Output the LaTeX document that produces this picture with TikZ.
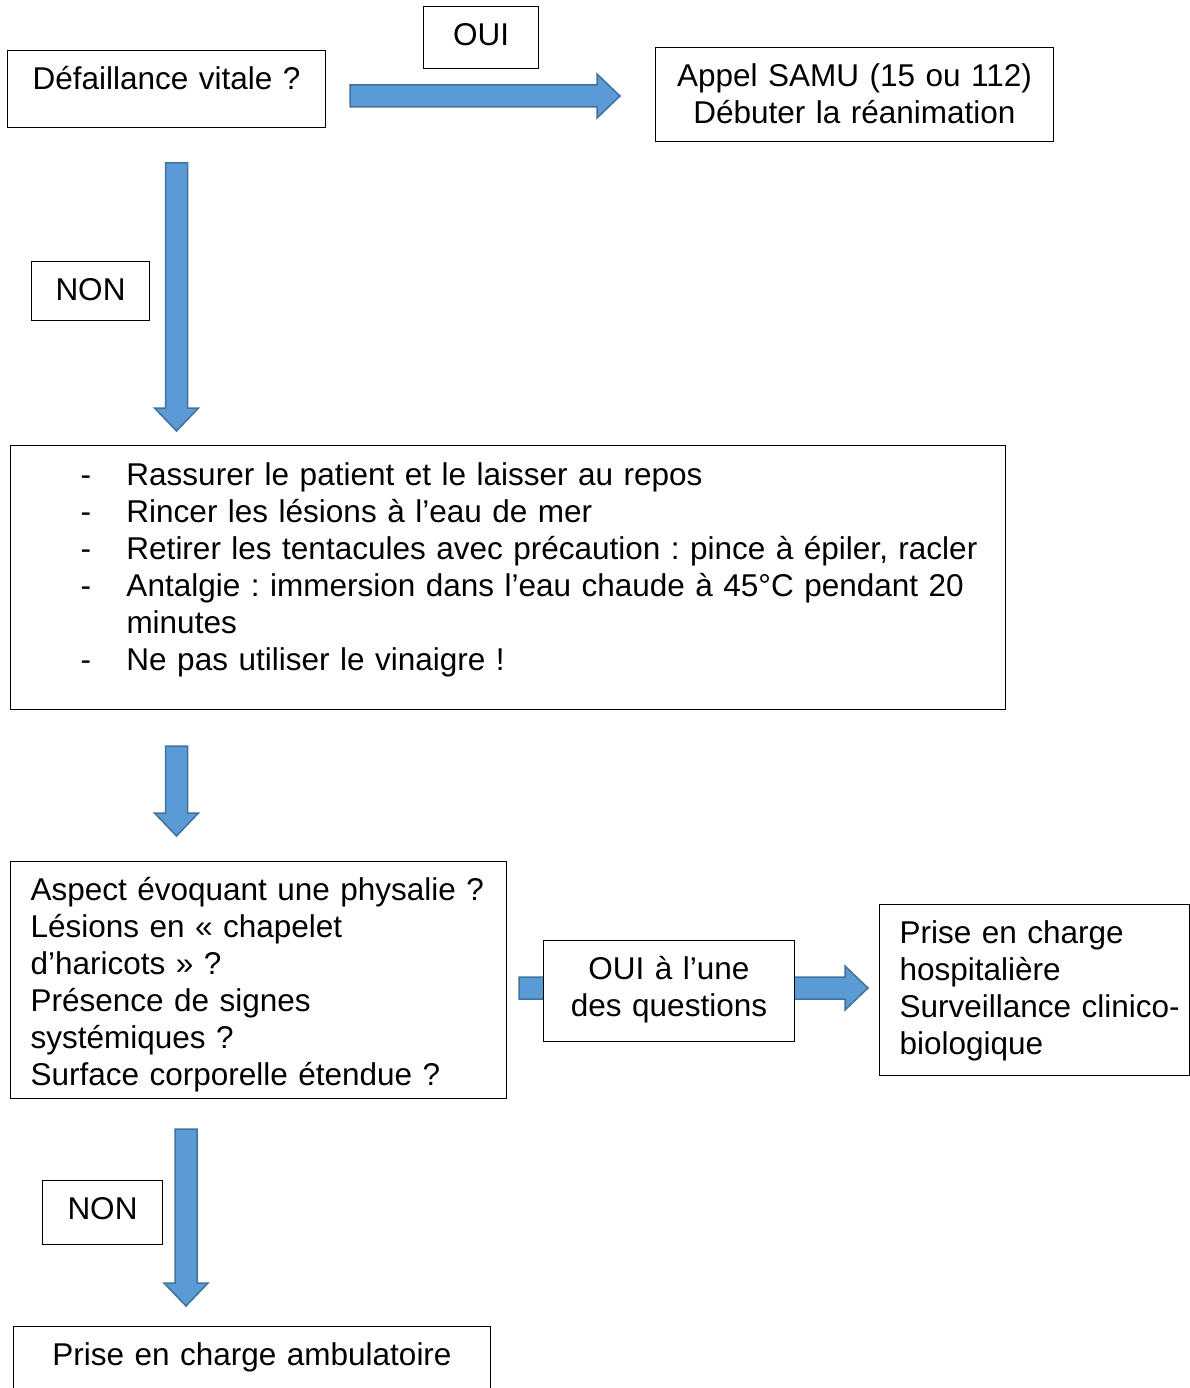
\documentclass[tikz,border=0pt]{standalone}
\usepackage{fontspec}
\setmainfont{Liberation Sans}
\usepackage{tikz}
\usetikzlibrary{calc}
\frenchspacing
\definecolor{bleufond}{HTML}{5B9BD5}
\definecolor{bleutrait}{HTML}{41719C}
\newcommand\tiret{\leavevmode\llap{\makebox[46pt][l]{-}}}

\begin{document}
\begin{tikzpicture}[x = 1pt, y = -1pt,
    every node/.style = { font = \fontsize{31.5}{37}\selectfont, inner sep = 0pt, anchor = north west },
    boite/.style = { draw, line width = 1pt, fill = white, align = center },
    gauche/.style = { boite, align = left },
    fleche/.style = { draw = bleutrait, fill = bleufond, line width = 1.5pt, line join = miter,
      to path = { (\tikztostart) coordinate (ts) ($(\tikztotarget)!23pt!(\tikztostart)$) coordinate (tb)
        ($(ts)!11pt!90:(tb)$) -- ($(tb)!11pt!-90:(ts)$) -- ($(tb)!22pt!-90:(ts)$) -- (\tikztotarget)
        -- ($(tb)!22pt!90:(ts)$) -- ($(tb)!11pt!90:(ts)$) -- ($(ts)!11pt!-90:(tb)$) -- cycle } }]
    \useasboundingbox (0,0) rectangle (1190,1388);

    \coordinate (a1) at (350,96);    \coordinate (b1) at (620,96);
    \coordinate (a2) at (176.5,163); \coordinate (b2) at (176.5,431);
    \coordinate (a3) at (176.5,746); \coordinate (b3) at (176.5,836);
    \coordinate (a4) at (519,988);   \coordinate (b4) at (868,988);
    \coordinate (a5) at (186,1129);  \coordinate (b5) at (186,1306);
    \foreach \i in {1,...,5} { \draw[fleche] (a\i) to (b\i); }

    \node[boite, text width = 318pt, text height = 39pt, text depth = 38pt] (defaillance) at (7,50) { Défaillance vitale ? };
    \node[boite, text width = 115pt, text height = 39.5pt, text depth = 22.5pt] (oui) at (423,6) { OUI };
    \node[boite, text width = 398pt, text height = 39.5pt, text depth = 54.5pt] (samu) at (655,47) { Appel SAMU (15 ou 112) \\ Débuter la réanimation };
    \node[boite, text width = 118pt, text height = 38.5pt, text depth = 20.5pt] (non) at (31,261) { NON };
    \node[gauche, text width = 995pt, text height = 39.5pt, text depth = 224.5pt] (soins) at (10,445) { \leftskip=116pt
      \tiret Rassurer le patient et le laisser au repos \\
      \tiret Rincer les lésions à l’eau de mer \\
      \tiret Retirer les tentacules avec précaution : pince à épiler, racler \\
      \tiret Antalgie : immersion dans l’eau chaude à 45°C pendant 20 \\
      minutes \\
      \tiret Ne pas utiliser le vinaigre !\par };
    \node[gauche, text width = 496pt, text height = 38.5pt, text depth = 198.5pt] (questions) at (10,861) { \leftskip=20pt
      \mbox{Aspect évoquant une physalie ?} \\ Lésions en « chapelet \\ d’haricots » ? \\ Présence de signes \\ systémiques ? \\ Surface corporelle étendue ?\par };
    \node[boite, text width = 251pt, text height = 38.5pt, text depth = 62.5pt] (ouiq) at (543,940) { OUI à l’une \\ des questions };
    \node[gauche, text width = 310pt, text height = 38.5pt, text depth = 132.5pt] (hopital) at (879,904) { \leftskip=20pt
      Prise en charge \\ hospitalière \\ \mbox{Surveillance clinico-} \\ biologique\par };
    \node[boite, text width = 120pt, text height = 38.5pt, text depth = 25.5pt] (non2) at (42,1180) { NON };
    \node[boite, text width = 477pt, text height = 38.5pt, text depth = 50pt] (ambulatoire) at (13,1326) { Prise en charge ambulatoire };
\end{tikzpicture}
\end{document}
